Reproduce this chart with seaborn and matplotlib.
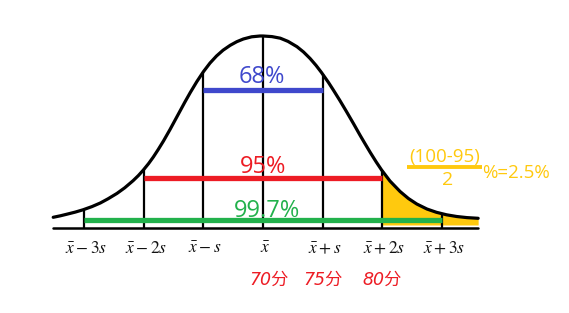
import numpy as np
import pandas as pd
import seaborn as sns
import matplotlib
matplotlib.use("Agg")
import matplotlib.pyplot as plt

sns.set_theme(style="white")
plt.rcParams['font.family'] = ['Open Sans', 'DejaVu Sans']
plt.rcParams['mathtext.fontset'] = 'stix'

# ---- data (x in units of s from the mean, height of the drawn curve) ----
curve_x = [-3.52, -3.40, -3.29, -3.15, -3.02, -2.87, -2.73, -2.60, -2.45, -2.32,
           -2.18, -2.09, -2.01, -1.92, -1.84, -1.76, -1.67, -1.56, -1.48, -1.39,
           -1.31, -1.22, -1.11, -1.00, -0.89, -0.78, -0.67, -0.55, -0.44, -0.33,
           -0.19, -0.05, 0.00, 0.15, 0.29, 0.42, 0.57, 0.68, 0.79, 0.89,
           0.98, 1.10, 1.18, 1.29, 1.40, 1.52, 1.63, 1.70, 1.80, 1.90,
           1.99, 2.13, 2.30, 2.44, 2.58, 2.75, 2.91, 3.08, 3.25, 3.42, 3.61]
curve_h = [10.7, 12.2, 13.8, 15.9, 18.2, 21.4, 25.0, 29.2, 34.6, 40.2,
           47.3, 52.5, 57.8, 64.4, 71.0, 78.3, 87.0, 98.5, 107.3, 117.2,
           126.0, 135.5, 146.4, 156.3, 164.9, 172.0, 177.8, 182.7, 186.3, 189.0,
           191.2, 192.0, 192.0, 191.4, 189.8, 186.6, 181.3, 176.0, 169.5, 162.6,
           155.6, 145.4, 138.0, 127.5, 116.5, 104.2, 92.6, 85.5, 75.5, 66.0,
           58.0, 47.0, 36.5, 29.5, 24.0, 19.0, 15.7, 13.2, 11.5, 10.4, 9.7]

tick_pos = [-3, -2, -1, 0, 1, 2, 3]
tick_labels = [r'$\bar{x}-3s$', r'$\bar{x}-2s$', r'$\bar{x}-s$', r'$\bar{x}$',
               r'$\bar{x}+s$', r'$\bar{x}+2s$', r'$\bar{x}+3s$']

band_k = [1, 2, 3]
band_labels = ['68%', '95%', '99.7%']
band_levels = [138, 50, 8]

score_pos = [0, 1, 2]
score_labels = ['70分', '75分', '80分']

tail_num = '(100-95)'
tail_den = '2'
tail_rest = '%=2.5%'

# ---- styles ----
BLUE, RED, GREEN, GOLD = '#3f48cc', '#ed1c24', '#22b14c', '#ffc90e'
band_colors = [BLUE, RED, GREEN]

fig = plt.figure(figsize=(5.69, 3.13), dpi=100)
ax = fig.add_axes([0, 0, 1, 1])
ax.set_xlim(-263 / 59.6, (569 - 263) / 59.6)
ax.set_ylim(-85, 228)
ax.axis('off')

df = pd.DataFrame({'x': curve_x, 'h': curve_h})

# yellow tail
tail = df[df.x >= 1.99]
ax.fill_between(tail.x, 3, tail.h, color=GOLD, lw=0, zorder=1)

# curve
sns.lineplot(data=df, x='x', y='h', ax=ax, color='black', lw=2.3,
             sort=True, zorder=5, estimator=None)
ax.lines[-1].set_solid_joinstyle('round')

# baseline
ax.plot([curve_x[0], curve_x[-1]], [0, 0], color='black', lw=1.8, zorder=4)

# vertical lines
for p in tick_pos:
    top = np.interp(p, curve_x, curve_h)
    ax.plot([p, p], [0, top], color='black', lw=1.6, zorder=4,
            solid_capstyle='butt')

# bands
for k, lab, lev, c in zip(band_k, band_labels, band_levels, band_colors):
    ax.plot([-k, k], [lev, lev], color=c, lw=3.8, zorder=6, solid_capstyle='butt')

ax.text(-0.02, 145, band_labels[0], color=BLUE, fontsize=17, ha='center', va='baseline', zorder=7)
ax.text(0.0, 55, band_labels[1], color=RED, fontsize=17, ha='center', va='baseline', zorder=7)
ax.text(0.06, 11, band_labels[2], color=GREEN, fontsize=17, ha='center', va='baseline', zorder=7)

# tick labels
for p, lab in zip(tick_pos, tick_labels):
    ax.text(p + 0.03, -25, lab, fontsize=12.5, ha='center', va='baseline', color='#111111')

# score labels
for i, (p, lab) in enumerate(zip(score_pos, score_labels)):
    off = 0.1 if i == 0 else 0.0
    ax.text(p + off, -57, lab, fontsize=12.5, ha='center', va='baseline', color=RED,
            style='italic', family=['DejaVu Sans', 'Noto Sans CJK SC'])

# tail annotation
ax.text(3.05, 66, tail_num, color=GOLD, fontsize=13.5, ha='center', va='baseline')
ax.plot([2.42, 3.67], [61, 61], color=GOLD, lw=2.8, solid_capstyle='butt')
ax.text(3.09, 43, tail_den, color=GOLD, fontsize=14, ha='center', va='baseline')
ax.text(3.67, 50, tail_rest, color=GOLD, fontsize=13.5, ha='left', va='baseline')

fig.savefig('out.png', dpi=100)
